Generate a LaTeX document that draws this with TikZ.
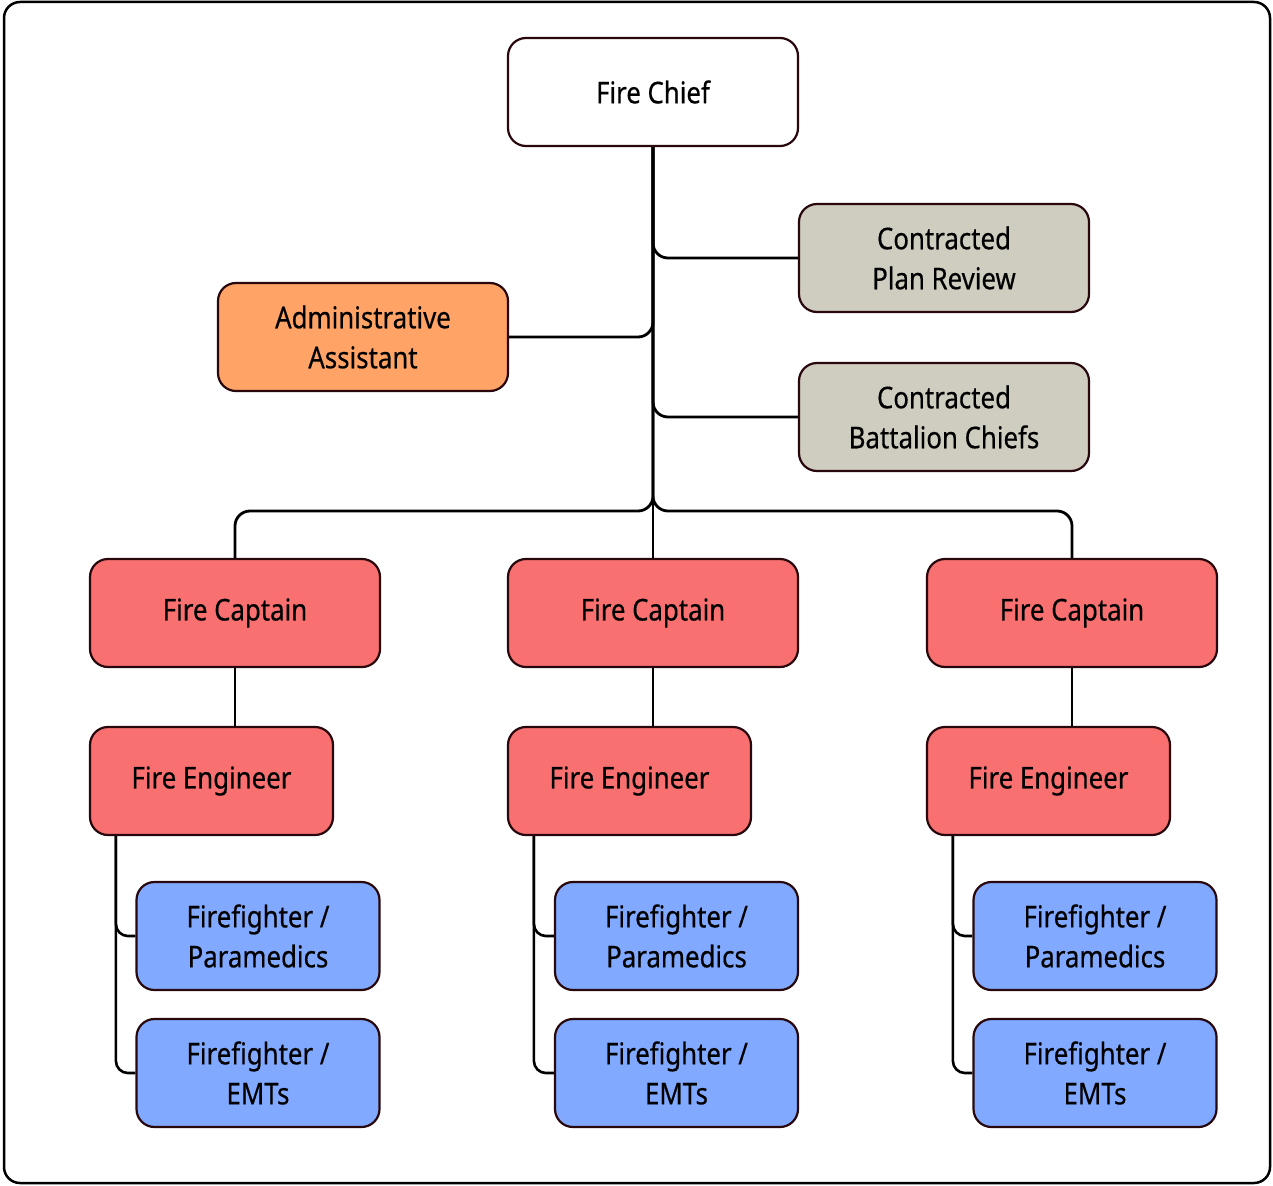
\documentclass[tikz,border=0pt]{standalone}
\usepackage{fontspec}
\setmainfont[FakeStretch=0.86,FakeBold=0.4]{Noto Sans}
\usetikzlibrary{calc}
\definecolor{edgec}{RGB}{40,8,12}
\definecolor{chiefc}{RGB}{255,255,255}
\definecolor{orangec}{RGB}{255,163,102}
\definecolor{grayc}{RGB}{207,204,192}
\definecolor{redc}{RGB}{248,112,112}
\definecolor{bluec}{RGB}{128,169,255}
\begin{document}
\begin{tikzpicture}[x=1pt,y=-1pt,
  box/.style={draw=edgec,line width=2.2pt,rounded corners=18pt,minimum height=108pt,
    align=center,font=\fontsize{30}{40}\selectfont,inner sep=0pt},
  wide/.style={box,minimum width=290pt},
  narrow/.style={box,minimum width=243pt},
  conn/.style={draw=black,line width=2.8pt,rounded corners=15pt},
  sub/.style={draw=black,line width=2.6pt,rounded corners=12pt}]
\useasboundingbox (0,0) rectangle (1273,1185);
\draw[line width=2.5pt,rounded corners=16pt] (4,2) rectangle (1270,1183);
% nodes
\node[wide,fill=chiefc] (chief) at (653,92) {Fire Chief};
\node[wide,fill=grayc] (plan) at (944,258) {Contracted\\Plan Review};
\node[wide,fill=orangec] (admin) at (363,337) {Administrative\\Assistant};
\node[wide,fill=grayc] (batt) at (944,417) {Contracted\\Battalion Chiefs};
\coordinate (busy) at (0,511);
\foreach \n/\cx/\ex/\fx in {L/235/211.5/258, M/653/629.5/676.5, R/1072/1048.5/1095}{
  \node[wide,fill=redc] (cap\n) at (\cx,613) {Fire Captain};
  \node[narrow,fill=redc] (eng\n) at (\ex,781) {Fire Engineer};
  \node[narrow,fill=bluec] (ffa\n) at (\fx,936) {Firefighter /\\Paramedics};
  \node[narrow,fill=bluec] (ffb\n) at (\fx,1073) {Firefighter /\\EMTs};
}
% connectors
\draw[conn] (chief.south) |- (plan.west);
\draw[conn] (chief.south) |- (admin.east);
\draw[conn] (chief.south) |- (batt.west);
\draw[conn] (chief.south) -- (capM.north);
\draw[conn] (chief.south) -- (chief.south |- busy) -- (capL.north |- busy) -- (capL.north);
\draw[conn] (chief.south) -- (chief.south |- busy) -- (capR.north |- busy) -- (capR.north);
\foreach \n in {L,M,R}{
  \draw[conn] (cap\n.south) -- (cap\n.south |- eng\n.north);
  \coordinate (t\n) at ($(eng\n.south west)+(27,0)$);
  \draw[sub] (t\n) |- (ffa\n.west);
  \draw[sub] (t\n) |- (ffb\n.west);
}
\end{tikzpicture}
\end{document}
